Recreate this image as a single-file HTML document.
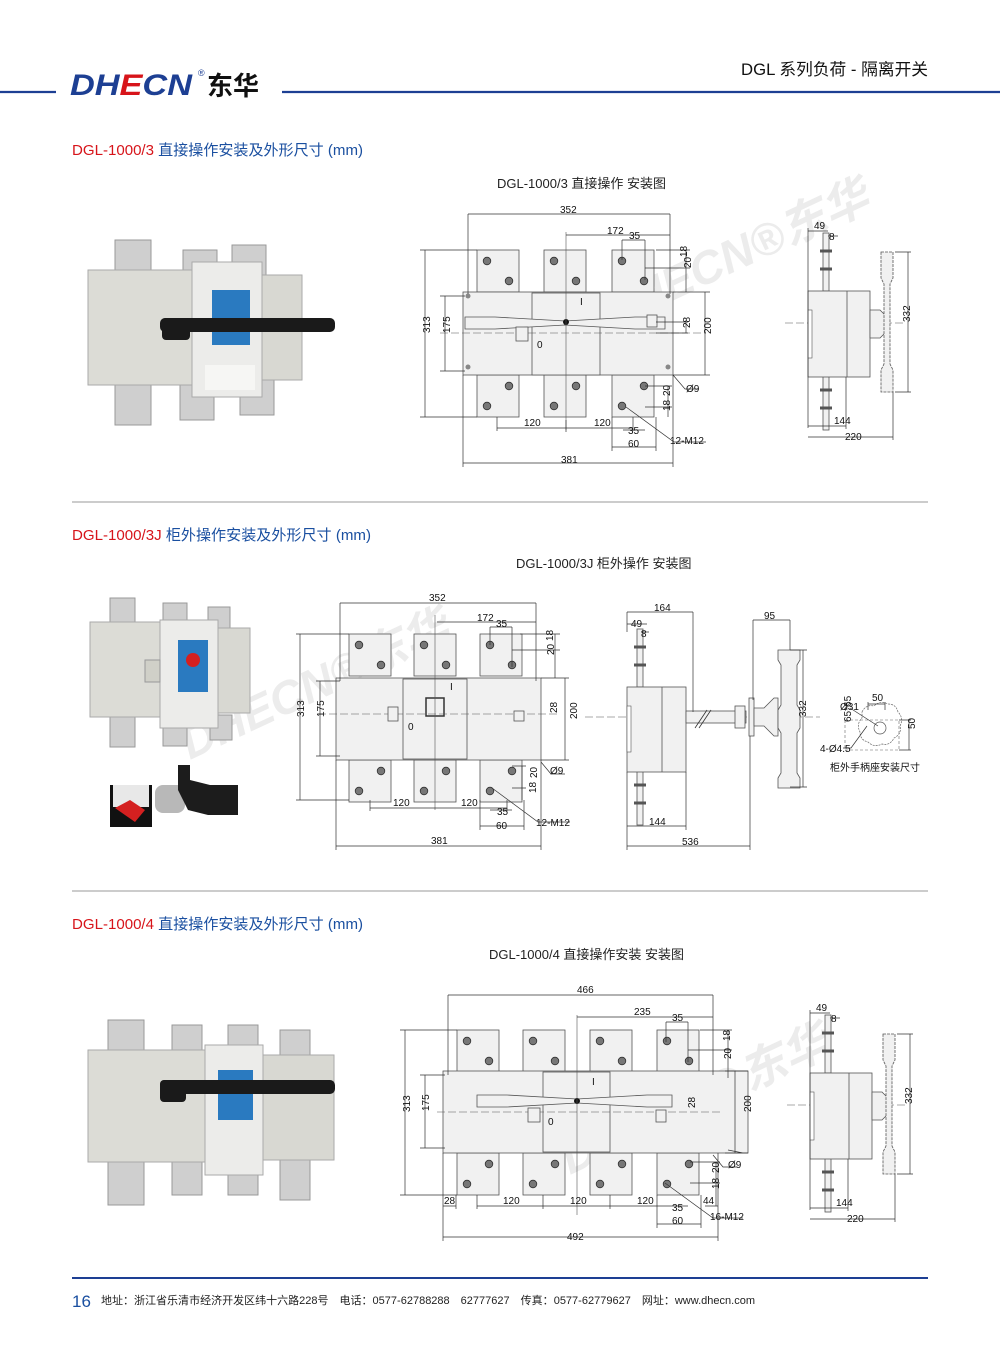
<!DOCTYPE html>
<html><head><meta charset="utf-8"><style>
html,body{margin:0;padding:0;background:#fff}
svg{display:block}
text{font-family:"Liberation Sans","Noto Sans CJK SC",sans-serif}
.d{font-size:10px;fill:#111}
.dl{stroke:#333;stroke-width:.7;fill:none}
.o{stroke:#555;stroke-width:.8;fill:#f1f1f1}
.cl{stroke:#555;stroke-width:.6;stroke-dasharray:8 3;fill:none}
</style></head><body>
<svg width="1000" height="1357" viewBox="0 0 1000 1357" xmlns="http://www.w3.org/2000/svg">
<defs>
<g id="pt"><rect x="0" y="0" width="42" height="42" class="o"/><circle cx="10" cy="11" r="3.8" fill="#777" stroke="#333" stroke-width=".8"/><circle cx="32" cy="31" r="3.8" fill="#777" stroke="#333" stroke-width=".8"/></g>
<g id="pb"><rect x="0" y="0" width="42" height="42" class="o"/><circle cx="32" cy="11" r="3.8" fill="#777" stroke="#333" stroke-width=".8"/><circle cx="10" cy="31" r="3.8" fill="#777" stroke="#333" stroke-width=".8"/></g>
<g id="term"><rect x="-3" y="0" width="6" height="58" class="o"/><path d="M-6 18 h12 M-6 36 h12" stroke="#555" stroke-width="3"/></g>
<g id="side">
<line x1="785" y1="323" x2="905" y2="323" class="cl"/>
<use href="#term" x="826" y="233"/><use href="#term" x="826" y="372" />
<rect x="808" y="291" width="62" height="86" class="o"/>
<line x1="847" y1="291" x2="847" y2="377" stroke="#555" stroke-width=".8"/>
<rect x="808" y="310" width="4" height="48" fill="#fff" stroke="#555" stroke-width=".6"/>
<path d="M870 310 h10 l6 6 v16 l-6 6 h-10z" class="o"/>
<path d="M881 252 h12 v26 l-3 6 v80 l3 6 v22 h-12 v-22 l3 -6 v-80 l-3 -6z" class="o" stroke-dasharray="3 1"/>
<path class="dl" d="M908 252 v140 M895 252 h16 M895 392 h16 M808 228 v200 M808 231 h20 M828 236 h10 M808 426 h38 M846 377 v52 M808 437 h85 M893 392 v48"/>
<text x="902" y="330" class="d" transform="rotate(-90 902 322)">332</text>
<text x="814" y="229" class="d">49</text><text x="829" y="240" class="d">8</text>
<text x="834" y="424" class="d">144</text><text x="845" y="440" class="d">220</text>
</g>
</defs>

<!-- header -->
<line x1="0" y1="92" x2="56" y2="92" stroke="#1d3f93" stroke-width="2.2"/>
<line x1="282" y1="92" x2="1000" y2="92" stroke="#1d3f93" stroke-width="2.2"/>
<text x="70" y="95" font-size="30" font-weight="bold" font-style="italic" fill="#1d3f93" textLength="122" lengthAdjust="spacingAndGlyphs">DH<tspan fill="#d7141a">E</tspan>CN</text>
<text x="198" y="76" font-size="9" fill="#1d3f93">®</text>
<text x="207" y="95" font-size="26" font-weight="bold" fill="#111">东华</text>
<text x="741" y="75" font-size="16.5" fill="#111" textLength="187" lengthAdjust="spacingAndGlyphs">DGL 系列负荷 - 隔离开关</text>

<!-- section titles -->
<text x="72" y="155" font-size="15" textLength="291" lengthAdjust="spacingAndGlyphs"><tspan fill="#d7141a">DGL-1000/3</tspan><tspan fill="#1a4fa0"> 直接操作安装及外形尺寸 (mm)</tspan></text>
<text x="72" y="540" font-size="15" textLength="299" lengthAdjust="spacingAndGlyphs"><tspan fill="#d7141a">DGL-1000/3J</tspan><tspan fill="#1a4fa0"> 柜外操作安装及外形尺寸 (mm)</tspan></text>
<text x="72" y="929" font-size="15" textLength="291" lengthAdjust="spacingAndGlyphs"><tspan fill="#d7141a">DGL-1000/4</tspan><tspan fill="#1a4fa0"> 直接操作安装及外形尺寸 (mm)</tspan></text>
<text x="497" y="188" font-size="13" fill="#222">DGL-1000/3 直接操作 安装图</text>
<text x="516" y="568" font-size="13" fill="#222">DGL-1000/3J 柜外操作 安装图</text>
<text x="489" y="959" font-size="13" fill="#222">DGL-1000/4 直接操作安装 安装图</text>
<line x1="72" y1="502" x2="928" y2="502" stroke="#999" stroke-width="1"/>
<line x1="72" y1="891" x2="928" y2="891" stroke="#999" stroke-width="1"/>

<!-- watermarks -->
<g fill="#ececec" font-weight="bold" font-style="italic">
<text x="610" y="330" font-size="46" transform="rotate(-25 610 330)">DHECN®东华</text>
<text x="190" y="760" font-size="46" transform="rotate(-25 190 760)">DHECN®东华</text>
<text x="570" y="1175" font-size="46" transform="rotate(-25 570 1175)">DHECN®东华</text>
</g>

<!-- ===== Front view 1 ===== -->
<g>
<use href="#pt" x="477" y="250"/><use href="#pt" x="544" y="250"/><use href="#pt" x="612" y="250"/>
<use href="#pb" x="477" y="375"/><use href="#pb" x="544" y="375"/><use href="#pb" x="612" y="375"/>
<rect x="463" y="292" width="210" height="83" class="o"/>
<rect x="532" y="293" width="68" height="82" class="o"/>
<path d="M465 317 h30 l70 4 l70 -4 h30 v12 h-30 l-70 -4 l-70 4 h-30z" class="o"/>
<circle cx="566" cy="322" r="3" fill="#111"/>
<line x1="440" y1="333" x2="705" y2="333" class="cl"/>
<line x1="566" y1="232" x2="566" y2="430" stroke="#555" stroke-width=".6"/>
<rect x="516" y="327" width="12" height="14" class="o"/><rect x="647" y="315" width="10" height="12" class="o"/>
<text x="580" y="305" class="d">I</text><text x="537" y="348" class="d">0</text>
<circle cx="468" cy="296" r="2.5" fill="#888"/><circle cx="468" cy="367" r="2.5" fill="#888"/><circle cx="668" cy="296" r="2.5" fill="#888"/><circle cx="668" cy="367" r="2.5" fill="#888"/>
<path class="dl" d="M468 214 h202 M468 214 v80 M670 214 v80 M566 235 h104 M622 240 h23 M622 240 v20 M645 240 v40 M425 250 v167 M420 250 h57 M420 417 h57 M445 296 v75 M440 296 h25 M440 371 h25 M705 292 v83 M673 292 h37 M673 375 h37 M463 463 h210 M463 375 v92 M673 375 v92 M497 428 h136 M497 417 v14 M566 420 v12 M633 417 v14 M612 447 h44 M612 417 v34 M656 417 v34 M623 430 h22 M686 250 v42 M656 250 h34 M645 268 h45 M656 322 h32 M656 333 h32 M686 322 v11 M668 386 v31 M645 386 h27 M645 407 h27 M673 375 l12 14 h14 M626 407 l48 35 h32"/>
<text x="560" y="213" class="d">352</text><text x="607" y="234" class="d">172</text><text x="629" y="239" class="d">35</text>
<text x="423" y="340" class="d" transform="rotate(-90 423 333)">313</text>
<text x="443" y="340" class="d" transform="rotate(-90 443 333)">175</text>
<text x="703" y="342" class="d" transform="rotate(-90 703 334)">200</text>
<text x="684" y="275" class="d" transform="rotate(-90 684 268)">20</text><text x="684" y="260" class="d" transform="rotate(-90 684 257)">18</text>
<text x="685" y="333" class="d" transform="rotate(-90 685 328)">28</text>
<text x="666" y="400" class="d" transform="rotate(-90 666 396)">20</text><text x="666" y="415" class="d" transform="rotate(-90 666 411)">18</text>
<text x="524" y="426" class="d">120</text><text x="594" y="426" class="d">120</text>
<text x="628" y="434" class="d">35</text><text x="628" y="447" class="d">60</text>
<text x="686" y="392" class="d">Ø9</text><text x="670" y="444" class="d">12-M12</text>
<text x="561" y="463" class="d">381</text>
</g>
<use href="#side"/>

<!-- ===== Front view 2 ===== -->
<g>
<use href="#pt" x="349" y="634"/><use href="#pt" x="414" y="634"/><use href="#pt" x="480" y="634"/>
<use href="#pb" x="349" y="760"/><use href="#pb" x="414" y="760"/><use href="#pb" x="480" y="760"/>
<rect x="336" y="678" width="205" height="82" class="o"/>
<rect x="403" y="679" width="64" height="80" class="o"/>
<rect x="426" y="698" width="18" height="18" fill="none" stroke="#333" stroke-width="1.5"/>
<line x1="318" y1="714" x2="560" y2="714" class="cl"/>
<line x1="435" y1="615" x2="435" y2="810" stroke="#555" stroke-width=".6"/>
<rect x="388" y="707" width="10" height="14" class="o"/><rect x="514" y="711" width="10" height="10" class="o"/>
<text x="450" y="690" class="d">I</text><text x="408" y="730" class="d">0</text>
<path class="dl" d="M340 603 h196 M340 603 v78 M536 603 v78 M437 622 h99 M490 627 h22 M490 627 v18 M512 627 v40 M300 634 v166 M296 634 h53 M296 800 h53 M320 681 v75 M316 681 h24 M316 756 h24 M565 678 v82 M541 678 h28 M541 760 h28 M336 846 h205 M336 760 v90 M541 760 v90 M370 808 h137 M370 800 v11 M507 800 v11 M480 826 h44 M480 800 v30 M524 800 v30 M490 810 h22 M555 634 v44 M520 634 h40 M512 650 h48 M522 766 v34 M512 766 h14 M512 788 h14 M541 762 l10 12 h14 M492 788 l46 34 h32"/>
<text x="429" y="601" class="d">352</text><text x="477" y="621" class="d">172</text><text x="496" y="627" class="d">35</text>
<text x="297" y="724" class="d" transform="rotate(-90 297 717)">313</text>
<text x="317" y="724" class="d" transform="rotate(-90 317 717)">175</text>
<text x="569" y="727" class="d" transform="rotate(-90 569 719)">200</text>
<text x="549" y="660" class="d" transform="rotate(-90 549 655)">20</text><text x="549" y="645" class="d" transform="rotate(-90 549 641)">18</text>
<text x="552" y="718" class="d" transform="rotate(-90 552 713)">28</text>
<text x="532" y="783" class="d" transform="rotate(-90 532 778)">20</text><text x="532" y="797" class="d" transform="rotate(-90 532 793)">18</text>
<text x="393" y="806" class="d">120</text><text x="461" y="806" class="d">120</text>
<text x="497" y="815" class="d">35</text><text x="496" y="829" class="d">60</text>
<text x="550" y="774" class="d">Ø9</text><text x="536" y="826" class="d">12-M12</text>
<text x="431" y="844" class="d">381</text>
</g>
<!-- side view 2 -->
<g>
<line x1="585" y1="717" x2="820" y2="717" class="cl" stroke-dasharray="10 3 2 3"/>
<use href="#term" x="640" y="629"/><use href="#term" x="640" y="767"/>
<rect x="627" y="687" width="59" height="85" class="o"/>
<line x1="662" y1="687" x2="662" y2="772" stroke="#555" stroke-width=".8"/>
<rect x="627" y="706" width="4" height="46" fill="#fff" stroke="#555" stroke-width=".6"/>
<rect x="686" y="711" width="60" height="12" class="o"/>
<path d="M695 728 l12 -18 M699 728 l12 -18" stroke="#333" stroke-width=".8"/>
<rect x="735" y="706" width="10" height="22" class="o"/>
<rect x="749" y="698" width="5" height="38" class="o"/>
<path d="M754 708 h10 l10 -10 h4 v38 h-4 l-10 -10 h-10z" class="o"/>
<path d="M778 650 h22 v10 l-3 5 v40 l3 5 v18 l-3 5 v40 l3 5 v10 h-22 v-10 l3 -5 v-40 l-3 -5 v-18 l3 -5 v-40 l-3 -5z" class="o"/>
<path class="dl" d="M627 612 v20 M627 612 h66 M693 612 v100 M627 624 h20 M641 632 h8 M753 620 h37 M753 620 v80 M790 620 v30 M803 650 v137 M790 650 h17 M790 787 h17 M627 826 h59 M686 772 v58 M627 846 h123 M627 772 v78 M750 736 v114"/>
<text x="654" y="611" class="d">164</text><text x="631" y="627" class="d">49</text><text x="641" y="637" class="d">8</text>
<text x="764" y="619" class="d">95</text>
<text x="799" y="724" class="d" transform="rotate(-90 799 717)">332</text>
<text x="649" y="825" class="d">144</text><text x="682" y="845" class="d">536</text>
<!-- mounting detail -->
<path d="M862 712 q4 -8 12 -6 q6 -6 14 -2 q8 0 10 8 q6 6 2 14 q2 8 -6 12 q-4 8 -12 6 q-8 4 -14 -2 q-8 -2 -8 -10 q-4 -8 2 -14z" fill="#fff" stroke="#666" stroke-width=".7" stroke-dasharray="2 1"/>
<rect x="845" y="720" width="54" height="30" fill="none" stroke="#666" stroke-width=".6" stroke-dasharray="3 2"/>
<circle cx="880" cy="728" r="6" fill="none" stroke="#555" stroke-width=".7"/>
<path class="dl" d="M868 702 v8 M885 702 v8 M868 704 h17 M909 720 v30 M899 720 h12 M899 750 h12 M850 708 l28 18 M843 748 h8 l16 -22"/>
<text x="872" y="701" class="d">50</text><text x="840" y="710" class="d">Ø31</text>
<text x="843" y="740" class="d" transform="rotate(-90 838 727)">65*65</text>
<text x="912" y="740" class="d" transform="rotate(-90 908 733)">50</text>
<text x="820" y="752" class="d">4-Ø4.5</text>
<text x="830" y="771" font-size="10" fill="#111">柜外手柄座安装尺寸</text>
</g>

<!-- ===== Front view 3 ===== -->
<g>
<use href="#pt" x="457" y="1030"/><use href="#pt" x="523" y="1030"/><use href="#pt" x="590" y="1030"/><use href="#pt" x="657" y="1030"/>
<use href="#pb" x="457" y="1153"/><use href="#pb" x="523" y="1153"/><use href="#pb" x="590" y="1153"/><use href="#pb" x="657" y="1153"/>
<rect x="443" y="1071" width="305" height="82" class="o"/>
<rect x="543" y="1072" width="67" height="80" class="o"/>
<path d="M477 1095 h30 l70 4 l70 -4 h25 v12 h-25 l-70 -4 l-70 4 h-30z" class="o"/>
<circle cx="577" cy="1101" r="3" fill="#111"/>
<line x1="437" y1="1112" x2="722" y2="1112" class="cl"/>
<line x1="577" y1="1015" x2="577" y2="1215" stroke="#555" stroke-width=".6"/>
<rect x="528" y="1108" width="12" height="14" class="o"/><rect x="656" y="1110" width="10" height="12" class="o"/>
<text x="592" y="1085" class="d">I</text><text x="548" y="1125" class="d">0</text>
<path class="dl" d="M448 995 h265 M448 995 v80 M713 995 v80 M577 1017 h136 M666 1022 h22 M666 1022 v20 M688 1022 v40 M405 1030 v165 M400 1030 h57 M400 1195 h57 M425 1075 v73 M420 1075 h25 M420 1148 h25 M735 1071 v82 M725 1071 h23 M725 1153 h23 M443 1237 h275 M443 1153 v88 M718 1153 v88 M477 1206 h200 M477 1195 v14 M543 1195 v14 M610 1195 v14 M443 1206 h13 M456 1195 v14 M657 1224 h44 M657 1195 v33 M701 1195 v33 M666 1206 h22 M728 1030 v48 M700 1030 h32 M688 1050 h44 M716 1162 v44 M690 1162 h30 M690 1183 h30 M705 1206 h13 M743 1153 l-15 -3 M713 1155 l10 12 h14 M665 1183 l48 35 h30"/>
<text x="577" y="993" class="d">466</text><text x="634" y="1015" class="d">235</text><text x="672" y="1021" class="d">35</text>
<text x="402" y="1120" class="d" transform="rotate(-90 402 1112)">313</text>
<text x="422" y="1118" class="d" transform="rotate(-90 422 1111)">175</text>
<text x="743" y="1120" class="d" transform="rotate(-90 743 1112)">200</text>
<text x="726" y="1064" class="d" transform="rotate(-90 726 1059)">20</text><text x="726" y="1045" class="d" transform="rotate(-90 726 1041)">18</text>
<text x="690" y="1113" class="d" transform="rotate(-90 690 1108)">28</text>
<text x="714" y="1178" class="d" transform="rotate(-90 714 1173)">20</text><text x="714" y="1194" class="d" transform="rotate(-90 714 1189)">18</text>
<text x="444" y="1204" class="d">28</text>
<text x="503" y="1204" class="d">120</text><text x="570" y="1204" class="d">120</text><text x="637" y="1204" class="d">120</text>
<text x="703" y="1204" class="d">44</text>
<text x="672" y="1211" class="d">35</text><text x="672" y="1224" class="d">60</text>
<text x="728" y="1168" class="d">Ø9</text><text x="710" y="1220" class="d">16-M12</text>
<text x="567" y="1240" class="d">492</text>
</g>
<use href="#side" transform="translate(2 782)"/>

<!-- ===== photos ===== -->
<g>
<rect x="115" y="240" width="36" height="40" fill="#cfcfcf" stroke="#999"/><rect x="183" y="250" width="34" height="30" fill="#cfcfcf" stroke="#999"/><rect x="232" y="245" width="34" height="35" fill="#cfcfcf" stroke="#999"/>
<rect x="115" y="380" width="36" height="45" fill="#cfcfcf" stroke="#999"/><rect x="180" y="385" width="34" height="35" fill="#cfcfcf" stroke="#999"/><rect x="240" y="380" width="34" height="35" fill="#cfcfcf" stroke="#999"/>
<rect x="88" y="270" width="105" height="115" fill="#dcdcd6" stroke="#aaa"/>
<rect x="262" y="275" width="40" height="105" fill="#d8d8d2" stroke="#aaa"/>
<rect x="192" y="262" width="70" height="135" fill="#ececea" stroke="#aaa"/>
<rect x="212" y="290" width="38" height="55" fill="#2a7ac0"/>
<rect x="160" y="318" width="175" height="14" rx="5" fill="#1a1a1a"/>
<rect x="162" y="318" width="28" height="22" rx="4" fill="#1a1a1a"/>
<rect x="205" y="365" width="50" height="25" fill="#f6f6f4"/>
</g>
<g>
<rect x="110" y="598" width="25" height="30" fill="#cfcfcf" stroke="#999"/><rect x="163" y="603" width="24" height="25" fill="#cfcfcf" stroke="#999"/><rect x="208" y="607" width="22" height="25" fill="#cfcfcf" stroke="#999"/>
<rect x="110" y="715" width="25" height="32" fill="#cfcfcf" stroke="#999"/><rect x="163" y="718" width="24" height="28" fill="#cfcfcf" stroke="#999"/><rect x="210" y="715" width="22" height="25" fill="#cfcfcf" stroke="#999"/>
<rect x="90" y="622" width="70" height="95" fill="#dcdcd6" stroke="#aaa"/>
<rect x="218" y="628" width="32" height="85" fill="#d8d8d2" stroke="#aaa"/>
<rect x="160" y="620" width="58" height="108" fill="#ececea" stroke="#aaa"/>
<rect x="178" y="640" width="30" height="52" fill="#2a7ac0"/>
<circle cx="193" cy="660" r="7" fill="#d42020"/>
<rect x="145" y="660" width="15" height="22" fill="#d0d0c8" stroke="#999"/>
<rect x="110" y="785" width="42" height="42" fill="#111"/><rect x="113" y="785" width="36" height="22" fill="#e8e8e8"/>
<path d="M115 808 l15 -8 l15 10 l-10 12z" fill="#d42020"/>
<rect x="155" y="785" width="30" height="28" rx="8" fill="#b8b8b8"/>
<path d="M178 765 h12 v15 l20 5 h28 v30 h-30 l-20 -5 l-10 -20z" fill="#1c1c1c"/>
</g>
<g>
<rect x="108" y="1020" width="36" height="40" fill="#cfcfcf" stroke="#999"/><rect x="172" y="1025" width="30" height="30" fill="#cfcfcf" stroke="#999"/><rect x="228" y="1025" width="30" height="30" fill="#cfcfcf" stroke="#999"/><rect x="280" y="1030" width="30" height="30" fill="#cfcfcf" stroke="#999"/>
<rect x="108" y="1160" width="36" height="45" fill="#cfcfcf" stroke="#999"/><rect x="172" y="1160" width="30" height="35" fill="#cfcfcf" stroke="#999"/><rect x="228" y="1160" width="30" height="35" fill="#cfcfcf" stroke="#999"/><rect x="280" y="1160" width="30" height="40" fill="#cfcfcf" stroke="#999"/>
<rect x="88" y="1050" width="120" height="112" fill="#dcdcd6" stroke="#aaa"/>
<rect x="262" y="1055" width="72" height="105" fill="#d8d8d2" stroke="#aaa"/>
<rect x="205" y="1045" width="58" height="130" fill="#ececea" stroke="#aaa"/>
<rect x="218" y="1070" width="35" height="50" fill="#2a7ac0"/>
<rect x="160" y="1080" width="175" height="14" rx="5" fill="#1a1a1a"/>
<rect x="160" y="1080" width="26" height="22" rx="4" fill="#1a1a1a"/>
</g>

<!-- footer -->
<line x1="72" y1="1278" x2="928" y2="1278" stroke="#1d3f93" stroke-width="2"/>
<text x="72" y="1307" font-size="17" fill="#1a4fa0">16</text>
<text x="101" y="1304" font-size="11" fill="#222" textLength="654" lengthAdjust="spacingAndGlyphs">地址：浙江省乐清市经济开发区纬十六路228号　电话：0577-62788288　62777627　传真：0577-62779627　网址：www.dhecn.com</text>
</svg>
</body></html>
